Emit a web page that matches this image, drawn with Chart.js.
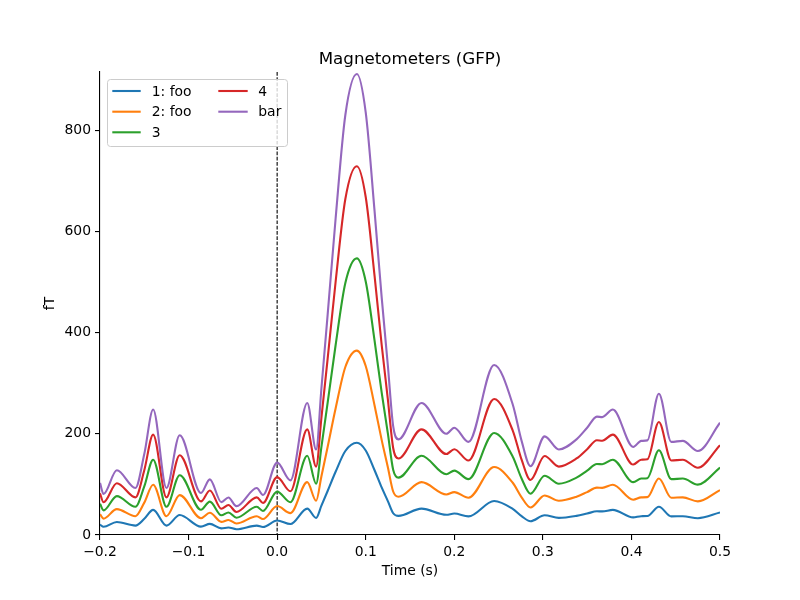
<!DOCTYPE html>
<html>
<head>
<meta charset="utf-8">
<script src="https://cdn.jsdelivr.net/npm/chart.js@4.4.0/dist/chart.umd.min.js"></script>
<style>
  html, body { margin: 0; padding: 0; background: #fff; }
  #wrap { width: 800px; height: 600px; }
</style>
</head>
<body>
<div id="wrap"><canvas id="gfpChart" width="800" height="600"></canvas></div>
<script>
// ========== DATA ==========
const times = [-0.200, -0.196, -0.181, -0.160, -0.150, -0.140, -0.125, -0.110, -0.086, -0.076,
               -0.063, -0.055, -0.046, -0.023, -0.016, 0.000, 0.015, 0.034, 0.044, 0.050,
               0.057, 0.066, 0.077, 0.090, 0.100, 0.110, 0.118, 0.125, 0.131, 0.137,
               0.163, 0.191, 0.200, 0.216, 0.245, 0.266, 0.276, 0.286, 0.302, 0.318,
               0.338, 0.350, 0.361, 0.367, 0.379, 0.402, 0.411, 0.418, 0.431, 0.445,
               0.458, 0.475, 0.500];

const gfp1 = [20.6, 16.2, 25.6, 18.6, 32, 49.6, 18.6, 39.4, 16.6, 22,
              13, 14.8, 11.4, 18.6, 15.8, 28.6, 21.6, 52.2, 33.8, 58,
              87, 125, 166, 182.2, 167, 128, 94, 67, 43, 37.8,
              52.2, 40, 42.4, 36.8, 67.2, 51.6, 37.2, 27.2, 39, 33.8,
              37.8, 42.4, 46.8, 46.6, 49.6, 34.8, 37.2, 37.4, 55.8, 36.8,
              37.2, 33.2, 44.4];
const gfp2 = [41.2, 32.4, 51.2, 37.2, 64, 99.2, 37.2, 78.8, 33.2, 44,
              26, 29.6, 22.8, 37.2, 31.6, 57.2, 43.2, 104.4, 67.6, 116,
              174, 250, 332, 364.4, 334, 256, 188, 134, 86, 75.6,
              104.4, 80, 84.8, 73.6, 134.4, 103.2, 74.4, 54.4, 78, 67.6,
              75.6, 84.8, 93.6, 93.2, 99.2, 69.6, 74.4, 74.8, 111.6, 73.6,
              74.4, 66.4, 88.8];
const gfp3 = [61.8, 48.6, 76.8, 55.8, 96, 148.8, 55.8, 118.2, 49.8, 66,
              39, 44.4, 34.2, 55.8, 47.4, 85.8, 64.8, 156.6, 101.4, 174,
              261, 375, 498, 546.6, 501, 384, 282, 201, 129, 113.4,
              156.6, 120, 127.2, 110.4, 201.6, 154.8, 111.6, 81.6, 117, 101.4,
              113.4, 127.2, 140.4, 139.8, 148.8, 104.4, 111.6, 112.2, 167.4, 110.4,
              111.6, 99.6, 133.2];
const gfp4 = [82.4, 64.8, 102.4, 74.4, 128, 198.4, 74.4, 157.6, 66.4, 88,
              52, 59.2, 45.6, 74.4, 63.2, 114.4, 86.4, 208.8, 135.2, 232,
              348, 500, 664, 728.8, 668, 512, 376, 268, 172, 151.2,
              208.8, 160, 169.6, 147.2, 268.8, 206.4, 148.8, 108.8, 156, 135.2,
              151.2, 169.6, 187.2, 186.4, 198.4, 139.2, 148.8, 149.6, 223.2, 147.2,
              148.8, 132.8, 177.6];
const gfpBar = [103, 81, 128, 93, 160, 248, 93, 197, 83, 110,
                65, 74, 57, 93, 79, 143, 108, 261, 169, 290,
                435, 625, 830, 911, 835, 640, 470, 335, 215, 189,
                261, 200, 212, 184, 336, 258, 186, 136, 195, 169,
                189, 212, 234, 233, 248, 174, 186, 187, 279, 184,
                186, 166, 222];

const seriesNames = ['1: foo', '2: foo', '3', '4', 'bar'];
const seriesColors = ['#1f77b4', '#ff7f0e', '#2ca02c', '#d62728', '#9467bd'];
const seriesValues = [gfp1, gfp2, gfp3, gfp4, gfpBar];

const xTicks = [-0.2, -0.1, 0.0, 0.1, 0.2, 0.3, 0.4, 0.5];
const yTicks = [0, 200, 400, 600, 800];

const FONT = "'DejaVu Sans', 'Liberation Sans', sans-serif";

// ========== PLUGIN: title, axis labels, dashed t=0, legend ==========
const mplDecor = {
    id: 'mplDecor',
    beforeDatasetsDraw(chart) {
        const ctx = chart.ctx;
        const area = chart.chartArea;
        const x0 = chart.scales.x.getPixelForValue(0);
        ctx.save();
        ctx.strokeStyle = '#000';
        ctx.lineWidth = 1.1;
        ctx.setLineDash([3.7, 1.6]);
        ctx.beginPath();
        ctx.moveTo(x0, area.top);
        ctx.lineTo(x0, area.bottom);
        ctx.stroke();
        ctx.restore();
    },
    afterDraw(chart) {
        const ctx = chart.ctx;
        const area = chart.chartArea;
        const cx = (area.left + area.right) / 2;
        ctx.save();
        ctx.fillStyle = '#000';
        ctx.textAlign = 'center';
        ctx.textBaseline = 'alphabetic';
        ctx.font = '16.7px ' + FONT;
        ctx.fillText('Magnetometers (GFP)', cx, 64);
        ctx.font = '13.9px ' + FONT;
        ctx.fillText('Time (s)', cx, 575);
        ctx.save();
        ctx.translate(50, (area.top + area.bottom) / 2);
        ctx.rotate(-Math.PI / 2);
        ctx.textBaseline = 'middle';
        ctx.fillText('fT', 0, 0);
        ctx.restore();

        // legend, two columns filled column-wise like matplotlib
        const bx = 107.5, by = 79.5, bw = 180, bh = 67;
        ctx.beginPath();
        ctx.roundRect(bx, by, bw, bh, 3);
        ctx.fillStyle = 'rgba(255,255,255,0.8)';
        ctx.fill();
        ctx.strokeStyle = '#cccccc';
        ctx.lineWidth = 1;
        ctx.stroke();

        const rowY = [91, 111.7, 132.3];
        const cols = [{ h0: 112.3, h1: 140.7, tx: 151.7 }, { h0: 218.3, h1: 247.7, tx: 258.3 }];
        ctx.font = '13.9px ' + FONT;
        ctx.textAlign = 'left';
        ctx.textBaseline = 'middle';
        chart.data.datasets.forEach((ds, i) => {
            const col = cols[i < 3 ? 0 : 1];
            const y = rowY[i < 3 ? i : i - 3];
            ctx.strokeStyle = ds.borderColor;
            ctx.lineWidth = 2.1;
            ctx.beginPath();
            ctx.moveTo(col.h0, y);
            ctx.lineTo(col.h1, y);
            ctx.stroke();
            ctx.fillStyle = '#000';
            ctx.fillText(ds.label, col.tx, y + 1);
        });
        ctx.restore();
    }
};

// ========== CHART ==========
const datasets = seriesNames.map((name, i) => ({
    label: name,
    data: times.map((t, k) => ({ x: t, y: seriesValues[i][k] })),
    borderColor: seriesColors[i],
    backgroundColor: seriesColors[i],
    borderWidth: 2.1,
    pointRadius: 0,
    fill: false,
    cubicInterpolationMode: 'monotone',
    order: seriesNames.length - 1 - i
}));

const axisCommon = {
    grid: { drawOnChartArea: false, drawTicks: true, tickLength: 5, color: '#000', lineWidth: 1.1 },
    border: { display: true, color: '#000', width: 1.1 },
    ticks: { color: '#000', font: { family: FONT, size: 13.9 }, padding: 4 }
};

new Chart(document.getElementById('gfpChart').getContext('2d'), {
    type: 'line',
    data: { datasets },
    options: {
        responsive: false,
        animation: false,
        devicePixelRatio: 1,
        layout: { padding: { top: 72, right: 80, bottom: 0, left: 0 } },
        plugins: { legend: { display: false }, tooltip: { enabled: false }, title: { display: false } },
        scales: {
            x: {
                type: 'linear',
                min: -0.2,
                max: 0.5,
                grid: axisCommon.grid,
                border: axisCommon.border,
                ticks: Object.assign({}, axisCommon.ticks, {
                    maxRotation: 0,
                    callback: v => v.toFixed(1).replace('-', '\u2212')
                }),
                afterBuildTicks: s => { s.ticks = xTicks.map(v => ({ value: v })); },
                afterFit: s => { s.height = 65; }
            },
            y: {
                min: 0,
                max: 915,
                grid: axisCommon.grid,
                border: axisCommon.border,
                ticks: Object.assign({}, axisCommon.ticks, { callback: v => String(v) }),
                afterBuildTicks: s => { s.ticks = yTicks.map(v => ({ value: v })); },
                afterFit: s => { s.width = 100; }
            }
        }
    },
    plugins: [mplDecor]
});
</script>
</body>
</html>
